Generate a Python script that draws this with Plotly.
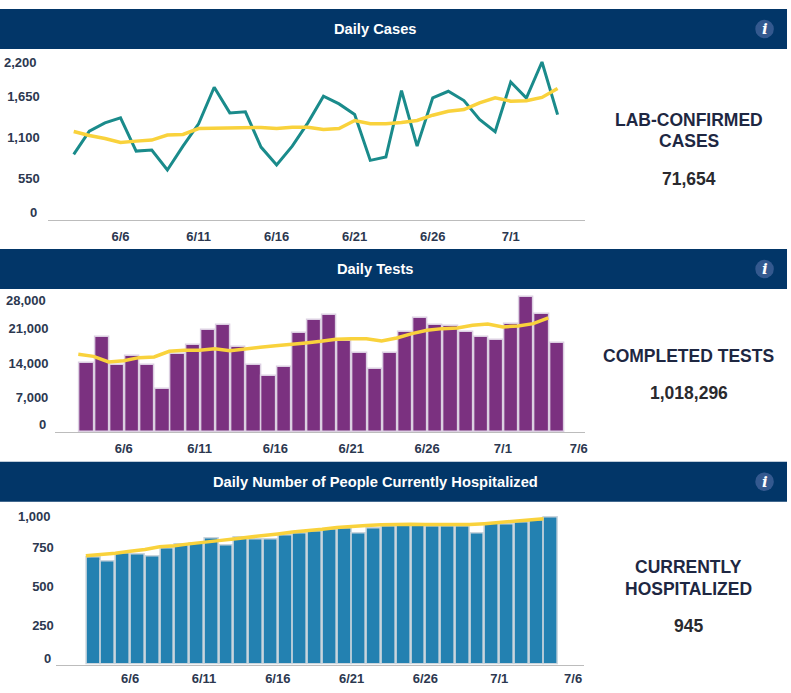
import pandas as pd
import plotly.graph_objects as go

# ---------------- data ----------------
start_date = "2020-06-03"
n_days = 32

cases = [877, 1190, 1301, 1368, 921, 935, 666, 988, 1288, 1780, 1435, 1449, 975, 733, 988, 1301,
         1659, 1556, 1413, 796, 841, 1735, 988, 1637, 1726, 1601, 1346, 1181, 1851, 1634, 2120, 1412]
cases_avg = [1185, 1131, 1091, 1037, 1055, 1069, 1136, 1145, 1225, 1230, 1239, 1239, 1239, 1225, 1243, 1243,
             1212, 1225, 1333, 1288, 1288, 1306, 1333, 1404, 1458, 1480, 1570, 1637, 1592, 1598, 1643, 1763]

tests = [14000, 19250, 13530, 15410, 13590, 8680, 15750, 17700, 20590, 21600, 17230, 13530, 11310, 13190, 20120, 22750,
         23760, 18370, 16090, 12850, 16020, 20190, 23150, 21740, 21400, 20190, 19250, 18580, 21870, 27320, 23820, 18100]
tests_avg = [15750, 15340, 14200, 14470, 15080, 15210, 16350, 16560, 16560, 16890, 16490, 16890, 17160, 17500, 17700, 18040,
             18370, 18780, 18910, 18910, 18440, 19050, 19920, 20590, 20930, 21070, 21600, 21870, 21270, 21470, 21940, 23080]

hosp = [687, 661, 713, 708, 697, 745, 773, 779, 810, 766, 818, 805, 805, 830, 846, 854,
        869, 878, 843, 876, 890, 897, 893, 890, 890, 890, 843, 906, 901, 914, 927, 945]
hosp_avg = [700, 706, 716, 728, 740, 758, 764, 776, 789, 797, 808, 818, 825, 840, 852, 860,
            870, 882, 890, 895, 899, 903, 902, 900, 899, 899, 900, 906, 914, 920, 928, 938]

tick_dates_1 = ["2020-06-06", "2020-06-11", "2020-06-16", "2020-06-21", "2020-06-26", "2020-07-01"]
tick_text_1 = ["6/6", "6/11", "6/16", "6/21", "6/26", "7/1"]
tick_dates_23 = tick_dates_1 + ["2020-07-06"]
tick_text_23 = tick_text_1 + ["7/6"]

y1_ticks = [0, 550, 1100, 1650, 2200]
y2_ticks = [0, 7000, 14000, 21000, 28000]
y3_ticks = [0, 250, 500, 750, 1000]

header_titles = ["Daily Cases", "Daily Tests", "Daily Number of People Currently Hospitalized"]
stat_labels = [["LAB-CONFIRMED", "CASES"], ["COMPLETED TESTS"], ["CURRENTLY", "HOSPITALIZED"]]
stat_values = ["71,654", "1,018,296", "945"]

# ---------------- styling ----------------
W, H = 791, 693
NAVY = "#023668"
TEAL = "#1a8b8b"
YELLOW = "#f9d23c"
PURPLE = "#7b3180"
BLUE = "#2381b1"
TICK_COLOR = "#2c3850"
FONT = "Liberation Sans, Arial, sans-serif"
DAY = pd.Timedelta(days=1)
DAY_MS = 86400000

dates = pd.date_range(start_date, periods=n_days, freq="D")
d0 = dates[0]


def px(p):
    return p / W


def py(p):
    return 1 - p / H


fig = go.Figure()

# chart 1
fig.add_trace(go.Scatter(x=dates, y=cases, mode="lines", line=dict(color=TEAL, width=3),
                         xaxis="x", yaxis="y", showlegend=False))
fig.add_trace(go.Scatter(x=dates, y=cases_avg, mode="lines", line=dict(color=YELLOW, width=3.5),
                         xaxis="x", yaxis="y", showlegend=False))
# chart 2
fig.add_trace(go.Bar(x=dates, y=tests, marker=dict(color=PURPLE, line=dict(color="#dccfe2", width=1.5)),
                     offset=0.1 * DAY_MS, width=0.94 * DAY_MS, xaxis="x2", yaxis="y2", showlegend=False))
fig.add_trace(go.Scatter(x=dates, y=tests_avg, mode="lines", line=dict(color=YELLOW, width=3.5),
                         xaxis="x2", yaxis="y2", showlegend=False))
# chart 3
fig.add_trace(go.Bar(x=dates, y=hosp, marker=dict(color=BLUE, line=dict(color="#c9d4dc", width=1.5)),
                     offset=0.05 * DAY_MS, width=0.94 * DAY_MS, xaxis="x3", yaxis="y3", showlegend=False))
fig.add_trace(go.Scatter(x=dates, y=hosp_avg, mode="lines", line=dict(color=YELLOW, width=3.5),
                         xaxis="x3", yaxis="y3", showlegend=False))

tickfont = dict(family=FONT, size=13, color=TICK_COLOR, weight="bold")


def xaxis(dom, rng, tv, tt, standoff, anchor):
    return dict(domain=[px(dom[0]), px(dom[1])], type="date", anchor=anchor,
                range=[d0 + rng[0] * DAY, d0 + rng[1] * DAY],
                tickvals=pd.to_datetime(tv), ticktext=tt, ticks="",
                showgrid=False, zeroline=False, showline=True, linecolor="#bcbcbc", linewidth=1,
                tickfont=tickfont, ticklabelstandoff=standoff, fixedrange=True)


def yaxis(dom, top, tv, anchor, standoff):
    return dict(domain=[py(dom[1]), py(dom[0])], range=[0, top], tickvals=tv, tickformat=",",
                ticks="", showgrid=False, zeroline=False, showline=False, anchor=anchor,
                tickfont=tickfont, ticklabelstandoff=standoff, fixedrange=True)


# pixel geometry of the three panes
c1_x, c1_y, c1_top = (47.8, 586.7), (53.1, 219.5), 2240
c2_x, c2_y, c2_top = (55.5, 586.7), (291.1, 432.4), 28500
c3_x, c3_y, c3_top = (56.0, 585.5), (504.4, 664.5), 1030
y_standoff = [7, 6, 1]

fig.update_layout(
    width=W, height=H, margin=dict(l=0, r=0, t=0, b=0),
    paper_bgcolor="white", plot_bgcolor="white", showlegend=False, bargap=0,
    xaxis=xaxis(c1_x, (-1.668, 32.77), tick_dates_1, tick_text_1, 5, "y"),
    xaxis2=xaxis(c2_x, (-1.513, 33.43), tick_dates_23, tick_text_23, 4, "y2"),
    xaxis3=xaxis(c3_x, (-2.03, 33.74), tick_dates_23, tick_text_23, 2, "y3"),
    yaxis=yaxis(c1_y, c1_top, y1_ticks[1:-1], "x", y_standoff[0]),
    yaxis2=yaxis(c2_y, c2_top, y2_ticks[1:-1], "x2", y_standoff[1]),
    yaxis3=yaxis(c3_y, c3_top, y3_ticks[1:-1], "x3", y_standoff[2]),
)

shapes = []
annotations = []

# end tick labels of each value axis, nudged inside the pane like the original dashboard
for yref, ticks, xdom, so, (sh_lo, sh_hi) in [("y", y1_ticks, c1_x, y_standoff[0], (7, -6)),
                                              ("y2", y2_ticks, c2_x, y_standoff[1], (8, -7)),
                                              ("y3", y3_ticks, c3_x, y_standoff[2], (6, -7))]:
    for val, shift in [(ticks[0], sh_lo), (ticks[-1], sh_hi)]:
        annotations.append(dict(xref="paper", yref=yref, x=px(xdom[0] - so - 1.5), y=val,
                                text=f"{val:,}", showarrow=False, xanchor="right", yanchor="middle",
                                yshift=shift, font=tickfont))

# headers
headers_px = [(9, 49), (249, 289), (461.7, 501.7)]
for (y0, y1), title in zip(headers_px, header_titles):
    shapes.append(dict(type="rect", xref="paper", yref="paper", x0=0, x1=px(789), y0=py(y1), y1=py(y0),
                       fillcolor=NAVY, line=dict(width=0), layer="above"))
    cy = (y0 + y1) / 2
    annotations.append(dict(xref="paper", yref="paper", x=px(376), y=py(cy), text=title, showarrow=False,
                            font=dict(family=FONT, size=14.7, color="white", weight="bold"),
                            xanchor="center", yanchor="middle"))
    r = 9.3
    ix = 766.5
    shapes.append(dict(type="circle", xref="paper", yref="paper", x0=px(ix - r), x1=px(ix + r),
                       y0=py(cy + r), y1=py(cy - r), fillcolor="#34598f", line=dict(width=0), layer="above"))
    annotations.append(dict(xref="paper", yref="paper", x=px(ix), y=py(cy), text="<b><i>i</i></b>",
                            showarrow=False, font=dict(family="DejaVu Serif", size=15, color="white"),
                            xanchor="center", yanchor="middle"))

# stats on the right
label_rows = [[120, 140.5], [356], [567, 589]]
value_rows = [179, 393.3, 626]
for labels, ys, val, vy in zip(stat_labels, label_rows, stat_values, value_rows):
    for lab, ly in zip(labels, ys):
        annotations.append(dict(xref="paper", yref="paper", x=px(690.5), y=py(ly), text=lab, showarrow=False,
                                font=dict(family=FONT, size=17.5, color="#1e2742", weight="bold"),
                                xanchor="center", yanchor="middle"))
    annotations.append(dict(xref="paper", yref="paper", x=px(690.5), y=py(vy), text=val, showarrow=False,
                            font=dict(family=FONT, size=17.5, color="#2a2a2e", weight="bold"),
                            xanchor="center", yanchor="middle"))

fig.update_layout(shapes=shapes, annotations=annotations)
fig.write_html("out.html", config={"displayModeBar": False},
               post_script="document.body.style.margin='0px';")
